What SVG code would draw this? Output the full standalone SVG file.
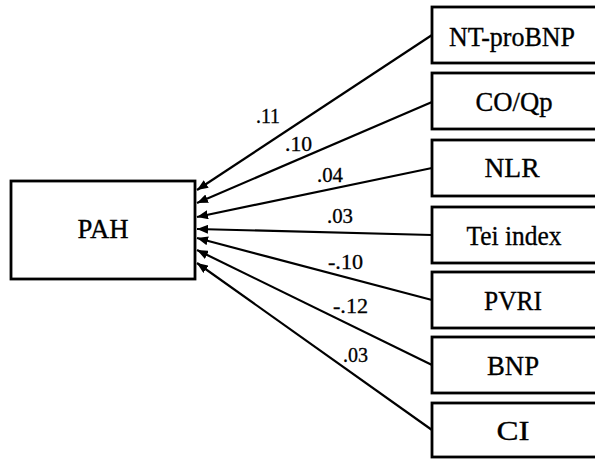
<svg xmlns="http://www.w3.org/2000/svg" width="595" height="459" viewBox="0 0 595 459">
<style>
  .box{fill:#fff;stroke:#000;stroke-width:2.8}
  .lbl{font-family:"Liberation Serif","Times New Roman",serif;font-size:28px;fill:#000;stroke:#000;stroke-width:0.35;text-anchor:middle}
  .coef{font-family:"Liberation Serif","Times New Roman",serif;font-size:20px;fill:#000;stroke:#000;stroke-width:0.3}
  .edge{stroke:#000;stroke-width:2.2;fill:none;marker-end:url(#arr)}
</style>
<defs>
  <marker id="arr" markerUnits="userSpaceOnUse" markerWidth="11" markerHeight="9" refX="11" refY="4.5" orient="auto">
    <path d="M0,0 L11,4.5 L0,9 z" fill="#000"/>
  </marker>
</defs>
<rect width="595" height="459" fill="#fff"/>
<g id="connectors">
  <line class="edge" x1="432" y1="35" x2="197" y2="190"/>
  <line class="edge" x1="432" y1="102" x2="197" y2="203"/>
  <line class="edge" x1="432" y1="168" x2="197" y2="217"/>
  <line class="edge" x1="432" y1="235" x2="197" y2="229"/>
  <line class="edge" x1="432" y1="300" x2="197" y2="238"/>
  <line class="edge" x1="432" y1="365" x2="197" y2="250"/>
  <line class="edge" x1="432" y1="430" x2="197" y2="263"/>
  <text class="coef" x="256" y="123" textLength="24" lengthAdjust="spacingAndGlyphs">.11</text>
  <text class="coef" x="285" y="151" textLength="27" lengthAdjust="spacingAndGlyphs">.10</text>
  <text class="coef" x="317" y="182" textLength="26" lengthAdjust="spacingAndGlyphs">.04</text>
  <text class="coef" x="327" y="223" textLength="26" lengthAdjust="spacingAndGlyphs">.03</text>
  <text class="coef" x="328" y="269" textLength="35" lengthAdjust="spacingAndGlyphs">-.10</text>
  <text class="coef" x="333" y="313" textLength="35" lengthAdjust="spacingAndGlyphs">-.12</text>
  <text class="coef" x="343" y="362" textLength="25" lengthAdjust="spacingAndGlyphs">.03</text>
</g>
<g id="PAH">
  <rect class="box" x="11" y="181" width="184" height="98"/>
  <text class="lbl" x="103" y="238" textLength="51" lengthAdjust="spacingAndGlyphs">PAH</text>
</g>
<g id="NT-proBNP">
  <rect class="box" x="432" y="7" width="170" height="56"/>
  <text class="lbl" x="512" y="46" textLength="126" lengthAdjust="spacingAndGlyphs">NT-proBNP</text>
</g>
<g id="CO-Qp">
  <rect class="box" x="432" y="73" width="170" height="56"/>
  <text class="lbl" x="514" y="111" textLength="77" lengthAdjust="spacingAndGlyphs">CO/Qp</text>
</g>
<g id="NLR">
  <rect class="box" x="432" y="140" width="170" height="56"/>
  <text class="lbl" x="512" y="177" textLength="55" lengthAdjust="spacingAndGlyphs">NLR</text>
</g>
<g id="Tei-index">
  <rect class="box" x="432" y="207" width="170" height="56"/>
  <text class="lbl" x="514" y="245" textLength="95" lengthAdjust="spacingAndGlyphs">Tei index</text>
</g>
<g id="PVRI">
  <rect class="box" x="432" y="272" width="170" height="56"/>
  <text class="lbl" x="513" y="310" textLength="58" lengthAdjust="spacingAndGlyphs">PVRI</text>
</g>
<g id="BNP">
  <rect class="box" x="432" y="337" width="170" height="56"/>
  <text class="lbl" x="513" y="375" textLength="52" lengthAdjust="spacingAndGlyphs">BNP</text>
</g>
<g id="CI">
  <rect class="box" x="432" y="403" width="170" height="54"/>
  <text class="lbl" x="513" y="440" textLength="33" lengthAdjust="spacingAndGlyphs">CI</text>
</g>
</svg>
